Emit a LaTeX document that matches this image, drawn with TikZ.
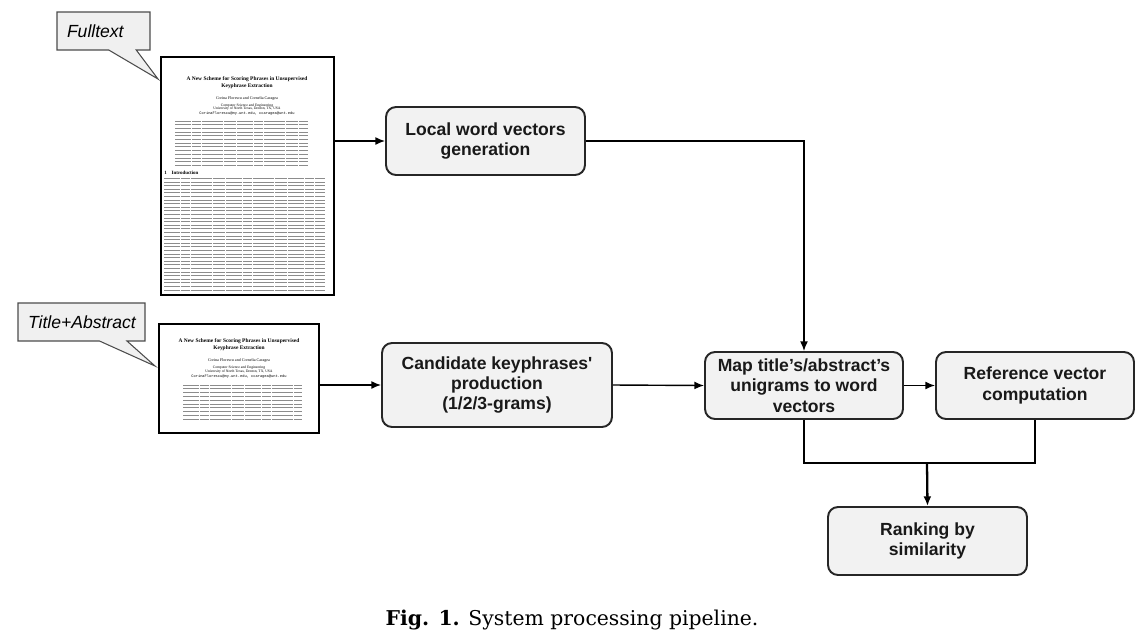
\documentclass[tikz,border=0pt]{standalone}
\usepackage{fontspec}
\setsansfont{Liberation Sans}
\newfontfamily\pagefont{Liberation Serif}
\newfontfamily\pagemono{Liberation Mono}
\newfontfamily\capfont{DejaVu Serif}
\usetikzlibrary{arrows.meta,shapes.callouts}
\newcommand{\straightquote}{\XeTeXglyph\XeTeXcharglyph"27\relax}

\begin{document}
\begin{tikzpicture}[x = 0.02cm,
                    y = -0.02cm,
                    >={Latex[length=5.5pt,width=4.5pt]},
                    color = {black}]
% styles
\tikzset{procbox/.style={draw=black!85,fill=black!5,line width=1.1pt,rounded corners=0.2cm,
                         font=\sffamily\bfseries\fontsize{10}{11.6}\selectfont,align=center,
                         text=black!90,inner sep=0pt},
         pagebox/.style={draw=black,fill=white,line width=1.1pt,inner sep=0pt},
         balloon/.style={rectangle callout,draw=black!70,fill=black!6,line width=0.6pt,
                         font=\sffamily\itshape\fontsize{10}{12}\selectfont,
                         callout pointer width=0.55cm,inner xsep=0.2cm,align=left},
         textline/.style={draw=black!45,line width=0.55pt,
                          dash pattern=on 9pt off 0.6pt on 5pt off 0.6pt on 12pt off 0.6pt on 7pt off 0.6pt},
         flow/.style={line width=0.8pt,->}}

\useasboundingbox (0,0) rectangle (1137,637);

% pages
\node[pagebox, minimum width=3.46cm, minimum height=4.76cm] (fullpage) at (247.5,176) {};
\node[pagebox, minimum width=3.2cm, minimum height=2.18cm] (abspage) at (239,378.5) {};

%fulltext page
\node[font=\pagefont\bfseries\fontsize{3.1}{4}\selectfont, align=center] (fulltitle) at (247,82.5)
  {A New Scheme for Scoring Phrases in Unsupervised\\Keyphrase Extraction};
\node[font=\pagefont\fontsize{2.3}{3}\selectfont] (fullauthors) at (247,99)
  {Corina Florescu and Cornelia Caragea};
\node[font=\pagefont\fontsize{2.1}{1.95}\selectfont, align=center] (fullaffil) at (247,109.5)
  {Computer Science and Engineering\\University of North Texas, Denton, TX, USA\\
   {\pagemono CorinaFlorescu@my.unt.edu, ccaragea@unt.edu}};
\foreach \y in {121,124.7,...,166}
  \draw[textline] (175,\y) -- (308,\y);
\node[font=\pagefont\bfseries\fontsize{2.8}{3}\selectfont, anchor=west, inner sep=0pt] (fullintro) at (164,173)
  {1\quad Introduction};
\foreach \y in {178.5,182.1,...,293}
  \draw[textline] (164,\y) -- (325,\y);

%title+abstract page
\node[font=\pagefont\bfseries\fontsize{3.1}{4}\selectfont, align=center] (abstitle) at (239,344.5)
  {A New Scheme for Scoring Phrases in Unsupervised\\Keyphrase Extraction};
\node[font=\pagefont\fontsize{2.3}{3}\selectfont] (absauthors) at (239,360.5)
  {Corina Florescu and Cornelia Caragea};
\node[font=\pagefont\fontsize{2.1}{1.95}\selectfont, align=center] (absaffil) at (239,372)
  {Computer Science and Engineering\\University of North Texas, Denton, TX, USA\\
   {\pagemono CorinaFlorescu@my.unt.edu, ccaragea@unt.edu}};
\foreach \y in {385,388.8,...,423}
  \draw[textline] (183,\y) -- (302,\y);

%callouts
\coordinate (fulltip) at (158,79);
\coordinate (abstip) at (155,366);
\node[balloon, minimum width=1.86cm, minimum height=0.76cm, text width=1.46cm,
      callout absolute pointer={(fulltip)}] (fullnote) at (103.5,31) {Fulltext};
\node[balloon, minimum width=2.54cm, minimum height=0.76cm, text width=2.14cm,
      callout absolute pointer={(abstip)}] (absnote) at (81.5,322) {Title+Abstract};

%process boxes
\node[procbox, minimum width=3.98cm, minimum height=1.36cm] (localvec) at (485.5,141)
  {Local word vectors\\generation};
\node[procbox, minimum width=4.6cm, minimum height=1.68cm] (candidate) at (497,385)
  {Candidate keyphrases\straightquote\\production\\(1/2/3-grams)};
\node[procbox, minimum width=3.96cm, minimum height=1.34cm] (mapvec) at (804,385.5)
  {Map title’s/abstract’s\\unigrams to word\\vectors};
\node[procbox, minimum width=3.96cm, minimum height=1.34cm] (refvec) at (1035,385.5)
  {Reference vector\\computation};
\node[procbox, minimum width=3.98cm, minimum height=1.36cm] (ranking) at (927.5,541)
  {Ranking by\\similarity};

%connectors
\draw[flow] (fullpage.east |- localvec.west) -- (localvec.west);
\draw[flow] (localvec.east) -| (mapvec.north);
\draw[flow] (abspage.east |- candidate.west) -- (candidate.west);
\draw[flow] (candidate.east) -- (mapvec.west);
\draw[flow] (mapvec.east) -- (refvec.west);
\coordinate (merge) at (927,463);
\draw[line width=0.8pt] (mapvec.south) |- (merge) -| (refvec.south);
\draw[flow, line width=1.3pt] (merge) -- (ranking.north);

%caption
\node[font=\capfont\fontsize{11.6}{14}\selectfont] (caption) at (572,620)
  {\textbf{Fig. 1.} System processing pipeline.};
\end{tikzpicture}
\end{document}
